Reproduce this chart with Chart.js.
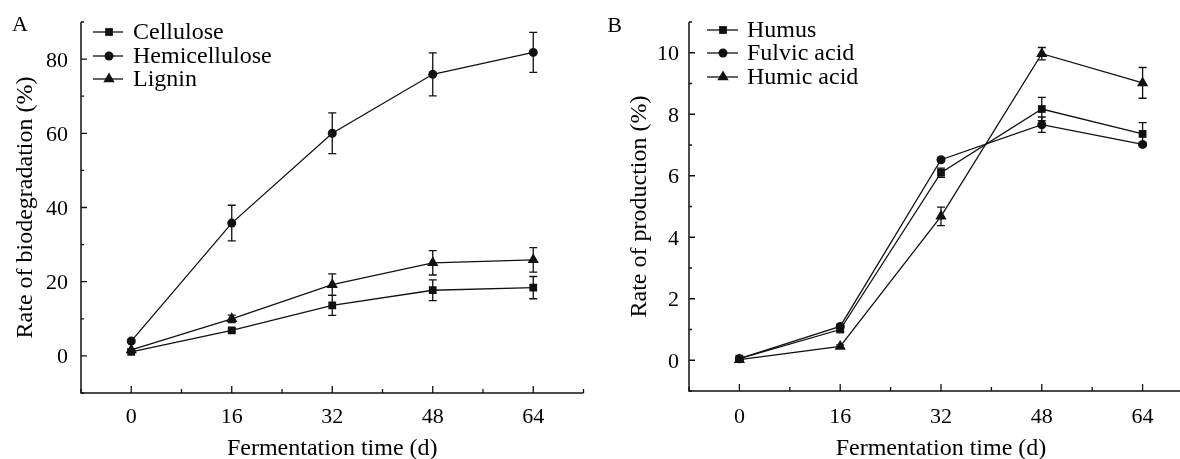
<!DOCTYPE html>
<html>
<head>
<meta charset="utf-8">
<script src="https://cdn.jsdelivr.net/npm/chart.js@4.4.1/dist/chart.umd.min.js"></script>
<style>
  html, body { margin: 0; padding: 0; background: #fff; overflow: hidden; }
  #wrap { position: relative; width: 1180px; height: 459px; overflow: hidden; }
  #chartA { position: absolute; left: 0; top: 0; }
  #chartB { position: absolute; left: 590px; top: 0; }
</style>
</head>
<body>
<div id="wrap">
  <canvas id="chartA" width="590" height="459"></canvas>
  <canvas id="chartB" width="610" height="459"></canvas>
</div>
<script>
// fermentation days (x)
const days = [0, 16, 32, 48, 64];
const xTickLabels = [0, 16, 32, 48, 64];

// panel A - biodegradation (%)
const cellulose = [1.1, 6.9, 13.6, 17.7, 18.4];
const celluloseErr = [0.3, 0.5, 2.7, 2.8, 3.0];
const hemicellulose = [4.0, 35.8, 60.0, 75.9, 81.8];
const hemicelluloseErr = [0.4, 4.8, 5.5, 5.8, 5.4];
const lignin = [1.6, 10.0, 19.2, 25.1, 25.9];
const ligninErr = [0.3, 1.0, 2.9, 3.3, 3.3];
const yTicksA = [0, 20, 40, 60, 80];

// panel B - production (%)
const humus = [0.05, 1.0, 6.1, 8.17, 7.36];
const humusErr = [0.03, 0.08, 0.15, 0.38, 0.37];
const fulvicAcid = [0.05, 1.1, 6.52, 7.66, 7.02];
const fulvicAcidErr = [0.02, 0.05, 0.06, 0.25, 0.05];
const humicAcid = [0.02, 0.45, 4.68, 9.97, 9.02];
const humicAcidErr = [0.02, 0.05, 0.3, 0.2, 0.5];
const yTicksB = [0, 2, 4, 6, 8, 10];

const INK = '#111';
const SERIF = '"Liberation Serif", "Times New Roman", serif';

function drawMarker(ctx, style, x, y, r) {
  ctx.beginPath();
  if (style === 'rect') {
    const s = Math.SQRT1_2 * r;
    ctx.rect(x - s, y - s, 2 * s, 2 * s);
  } else if (style === 'triangle') {
    let rad = 0;
    ctx.moveTo(x + Math.sin(rad) * r, y - Math.cos(rad) * r);
    rad += 2 * Math.PI / 3;
    ctx.lineTo(x + Math.sin(rad) * r, y - Math.cos(rad) * r);
    rad += 2 * Math.PI / 3;
    ctx.lineTo(x + Math.sin(rad) * r, y - Math.cos(rad) * r);
    ctx.closePath();
  } else {
    ctx.arc(x, y, r, 0, Math.PI * 2);
  }
  ctx.fill();
}

// vertical error bars with caps, drawn under the markers
const errorBars = {
  id: 'errorBars',
  beforeDatasetsDraw(chart) {
    const { ctx, scales: { y } } = chart;
    ctx.save();
    ctx.strokeStyle = INK;
    ctx.lineWidth = 1.3;
    chart.data.datasets.forEach((ds, di) => {
      const meta = chart.getDatasetMeta(di);
      ds.errors.forEach((e, i) => {
        const pt = meta.data[i];
        const v = ds.data[i].y;
        const top = y.getPixelForValue(v + e);
        const bot = y.getPixelForValue(v - e);
        ctx.beginPath();
        ctx.moveTo(pt.x, top); ctx.lineTo(pt.x, bot);
        ctx.moveTo(pt.x - 4, top); ctx.lineTo(pt.x + 4, top);
        ctx.moveTo(pt.x - 4, bot); ctx.lineTo(pt.x + 4, bot);
        ctx.stroke();
      });
    });
    ctx.restore();
  }
};

// left/bottom axes with inward ticks, labels, titles and legend
const frame = {
  id: 'frame',
  afterDraw(chart, args, o) {
    const { ctx, chartArea: a, scales: { x, y } } = chart;
    ctx.save();
    ctx.strokeStyle = INK;
    ctx.fillStyle = '#000';
    ctx.lineWidth = 1.5;
    ctx.beginPath();
    ctx.moveTo(a.left, a.top);
    ctx.lineTo(a.left, a.bottom);
    ctx.lineTo(a.right, a.bottom);
    ctx.stroke();

    // x ticks
    const xStep = (o.xTicks[1] - o.xTicks[0]) / 2;
    ctx.lineWidth = 1.3;
    ctx.beginPath();
    for (let v = x.min; v <= x.max + 1e-9; v += xStep) {
      const px = x.getPixelForValue(v);
      const len = o.xTicks.includes(v) ? 7 : 4;
      ctx.moveTo(px, a.bottom); ctx.lineTo(px, a.bottom - len);
    }
    // y ticks
    const yStep = (o.yTicks[1] - o.yTicks[0]) / 2;
    for (let v = y.min; v <= y.max + 1e-9; v += yStep) {
      const py = y.getPixelForValue(v);
      const len = o.yTicks.some(t => Math.abs(t - v) < 1e-9) ? 6 : 3;
      ctx.moveTo(a.left, py); ctx.lineTo(a.left + len, py);
    }
    ctx.stroke();

    ctx.font = '22px ' + SERIF;
    ctx.textBaseline = 'alphabetic';
    ctx.textAlign = 'center';
    o.xTicks.forEach(t => ctx.fillText(String(t), x.getPixelForValue(t), 423));
    ctx.textAlign = 'right';
    o.yTicks.forEach(t => ctx.fillText(String(t), o.yLabelRight, y.getPixelForValue(t) + 7.5));

    ctx.font = '24px ' + SERIF;
    ctx.textAlign = 'center';
    ctx.fillText(o.xTitle, (a.left + a.right) / 2, 455);
    ctx.save();
    ctx.translate(o.yTitleX, (a.top + a.bottom) / 2);
    ctx.rotate(-Math.PI / 2);
    ctx.textBaseline = 'middle';
    ctx.fillText(o.yTitle, 0, 0);
    ctx.restore();

    ctx.font = '22px ' + SERIF;
    ctx.textBaseline = 'middle';
    ctx.fillText(o.panel, o.panelX, o.panelY);

    // legend
    const L = o.legend;
    ctx.font = '24px ' + SERIF;
    ctx.textAlign = 'left';
    chart.data.datasets.forEach((ds, i) => {
      const ly = L.rows[i];
      ctx.lineWidth = 1.3;
      ctx.beginPath();
      ctx.moveTo(L.x0, ly); ctx.lineTo(L.x1, ly);
      ctx.stroke();
      ctx.fillStyle = INK;
      drawMarker(ctx, ds.pointStyle, L.xm, ly, ds.pointRadius);
      ctx.fillStyle = '#000';
      ctx.fillText(ds.label, L.tx, ly + 1);
    });
    ctx.restore();
  }
};

function series(label, values, errors, style, radius) {
  return {
    label: label,
    data: days.map((d, i) => ({ x: d, y: values[i] })),
    errors: errors,
    borderColor: INK,
    borderWidth: 1.3,
    backgroundColor: INK,
    pointStyle: style,
    pointRadius: radius,
    pointBorderWidth: 0,
    pointBackgroundColor: INK,
    tension: 0,
    fill: false
  };
}

function buildChart(id, cfg) {
  return new Chart(document.getElementById(id), {
    type: 'line',
    data: { datasets: cfg.datasets },
    options: {
      responsive: false,
      animation: false,
      devicePixelRatio: 1,
      layout: { padding: cfg.padding },
      scales: {
        x: { type: 'linear', display: false, min: -8, max: 72 },
        y: { type: 'linear', display: false, min: cfg.yMin, max: cfg.yMax }
      },
      plugins: {
        legend: { display: false },
        tooltip: { enabled: false },
        frame: cfg.frame
      }
    },
    plugins: [errorBars, frame]
  });
}

buildChart('chartA', {
  datasets: [
    series('Cellulose', cellulose, celluloseErr, 'rect', 5.5),
    series('Hemicellulose', hemicellulose, hemicelluloseErr, 'circle', 4.5),
    series('Lignin', lignin, ligninErr, 'triangle', 6.5)
  ],
  padding: { left: 81, right: 3, top: 22, bottom: 66 },
  yMin: -10, yMax: 90,
  frame: {
    xTicks: xTickLabels, yTicks: yTicksA, yLabelRight: 68,
    xTitle: 'Fermentation time (d)', yTitle: 'Rate of biodegradation (%)', yTitleX: 26,
    panel: 'A', panelX: 20, panelY: 25,
    legend: { x0: 93, x1: 123, xm: 109, tx: 133, rows: [32, 56, 79] }
  }
});

buildChart('chartB', {
  datasets: [
    series('Humus', humus, humusErr, 'rect', 5.5),
    series('Fulvic acid', fulvicAcid, fulvicAcidErr, 'circle', 4.5),
    series('Humic acid', humicAcid, humicAcidErr, 'triangle', 6.5)
  ],
  padding: { left: 99, right: 7, top: 22, bottom: 68 },
  yMin: -1, yMax: 11,
  frame: {
    xTicks: xTickLabels, yTicks: yTicksB, yLabelRight: 89,
    xTitle: 'Fermentation time (d)', yTitle: 'Rate of production (%)', yTitleX: 50,
    panel: 'B', panelX: 24.5, panelY: 26,
    legend: { x0: 117, x1: 148, xm: 133, tx: 157, rows: [30, 53, 77] }
  }
});
</script>
</body>
</html>
